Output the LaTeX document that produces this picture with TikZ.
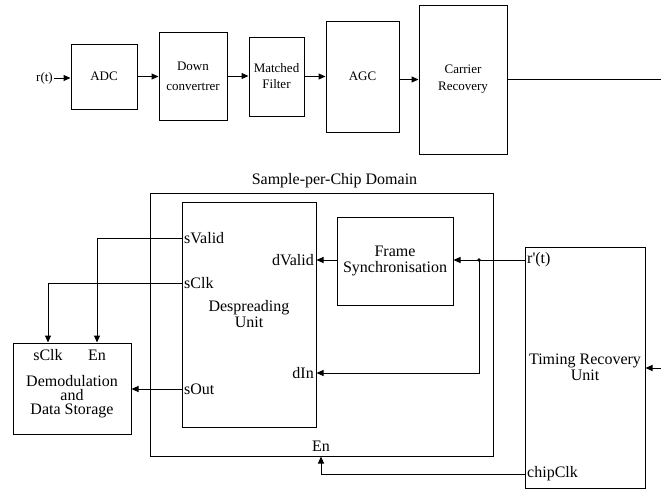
\documentclass[tikz,border=0pt]{standalone}
\usepackage{fontspec}
\setmainfont{Liberation Serif}
\usetikzlibrary{positioning,arrows.meta}

\begin{document}
\begin{tikzpicture}[x=1pt,y=-1pt,
  blk/.style={draw, line width=1pt, inner sep=0pt, align=center},
  topf/.style={font=\fontsize{13}{17}\selectfont},
  botf/.style={font=\fontsize{16}{16}\selectfont},
  port/.style={botf, inner sep=1pt},
  wire/.style={line width=1pt},
  arr/.style={wire, -{Triangle[length=7pt,width=6pt]}}
]
\useasboundingbox (0,0) rectangle (661,491);

\node[topf, inner sep=1pt] (rt) at (44.5,78) {r(t)};
\node[blk, topf, minimum width=66pt, minimum height=65pt] (adc) at (104,76.5) {ADC};
\node[blk, font=\fontsize{13}{20}\selectfont, minimum width=68pt, minimum height=88pt] (down) at (193,76) {Down\\convertrer};
\node[blk, font=\fontsize{13}{16}\selectfont, minimum width=55pt, minimum height=79pt] (mf) at (276.5,76.5) {Matched\\Filter};
\node[blk, topf, minimum width=73pt, minimum height=111pt] (agc) at (362.5,76.5) {AGC};
\node[blk, topf, minimum width=88pt, minimum height=149pt] (cr) at (463,79.5) {Carrier\\Recovery};
\coordinate (topout) at (661,80);

\node[blk, minimum width=343pt, minimum height=263pt] (dom) at (321.5,324.5) {};
\node[botf] (domlbl) at (334.5,181) {Sample-per-Chip Domain};
\node[blk, botf, minimum width=134pt, minimum height=225pt] (desp) at (249,314.5) {Despreading\\Unit};
\node[blk, botf, minimum width=116pt, minimum height=88pt] (fs) at (395,261) {Frame\\Synchronisation};
\node[blk, botf, minimum width=120pt, minimum height=241pt] (tr) at (585,367.5) {Timing Recovery\\Unit};
\node[blk, minimum width=118pt, minimum height=91pt] (dm) at (72,388.5) {};
\node[align=center, font=\fontsize{16}{14}\selectfont] (dmlbl) at (72,397) {Demodulation\\and\\Data Storage};

\node[port, anchor=west] (svalid) at (183,238) {sValid};
\node[port, anchor=west] (sclk) at (183,283) {sClk};
\node[port, anchor=west] (sout) at (183,389) {sOut};
\node[port, anchor=east] (dvalid) at (315,260) {dValid};
\node[port, anchor=east] (din) at (315,373) {dIn};
\node[port, anchor=west] (rp) at (526,260) {r\textquotesingle(t)};
\node[port, anchor=west] (chip) at (526,474) {chipClk};
\node[port] (dmclk) at (48,355) {sClk};
\node[port] (dmen) at (97,355) {En};
\node[port] (domen) at (321,446) {En};
\coordinate (jn) at (479,260);
\coordinate (trin) at (661,368);

\draw[arr] (rt.east) -- (rt.east -| adc.west);
\draw[arr] (adc.east) -- (adc.east -| down.west);
\draw[arr] (down.east) -- (down.east -| mf.west);
\draw[arr] (mf.east) -- (mf.east -| agc.west);
\draw[arr] (agc.east |- cr.west) -- (cr.west);
\draw[wire] (cr.east) -- (cr.east -| topout);

\draw[arr] (desp.west |- svalid) -| (dmen |- dm.north);
\draw[arr] (desp.west |- sclk) -| (dmclk |- dm.north);
\draw[arr] (desp.west |- sout) -- (dm.east |- sout);
\draw[arr] (fs.west |- dvalid) -- (desp.east |- dvalid);
\draw[arr] (tr.west |- rp) -- (fs.east |- rp);
\fill (jn) circle (1.8);
\draw[arr] (jn) |- (desp.east |- din);
\draw[arr] (tr.west |- chip) -| (domen |- dom.south);
\draw[arr] (trin) -- (tr.east |- trin);

\end{tikzpicture}
\end{document}
